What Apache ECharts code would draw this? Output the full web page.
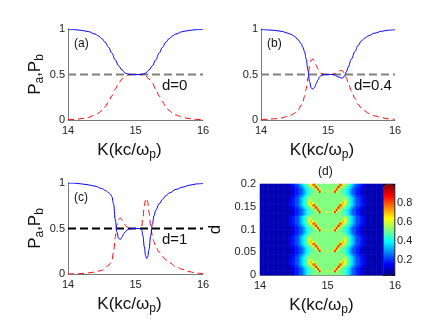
<!DOCTYPE html>
<html>
<head>
<meta charset="utf-8">
<script src="https://cdn.jsdelivr.net/npm/echarts@6.0.0/dist/echarts.min.js"></script>
<style>
  html, body { margin: 0; padding: 0; background: #fff; }
  #chart { width: 436px; height: 327px; }
</style>
</head>
<body>
<div id="chart"></div>
<script>
// panel (a), d = 0
const kA = [14, 14.1, 14.2, 14.3, 14.4, 14.45, 14.5, 14.55, 14.6, 14.65, 14.7, 14.75, 14.8, 14.85, 14.9, 14.95, 15, 15.05, 15.1, 15.15, 15.2, 15.25, 15.3, 15.35, 15.4, 15.45, 15.5, 15.55, 15.6, 15.7, 15.8, 15.9, 16]
const paA = [0.995, 0.993, 0.985, 0.972, 0.945, 0.925, 0.895, 0.855, 0.8, 0.735, 0.66, 0.595, 0.55, 0.515, 0.503, 0.5, 0.5, 0.5, 0.503, 0.515, 0.55, 0.595, 0.66, 0.735, 0.8, 0.855, 0.895, 0.925, 0.945, 0.972, 0.985, 0.993, 0.995]
const pbA = [0.005, 0.007, 0.015, 0.028, 0.055, 0.075, 0.105, 0.145, 0.2, 0.265, 0.34, 0.405, 0.45, 0.485, 0.497, 0.5, 0.5, 0.5, 0.497, 0.485, 0.45, 0.405, 0.34, 0.265, 0.2, 0.145, 0.105, 0.075, 0.055, 0.028, 0.015, 0.007, 0.005]

// panel (b), d = 0.4
const kB = [14, 14.1, 14.2, 14.3, 14.4, 14.45, 14.5, 14.55, 14.6, 14.625, 14.65, 14.675, 14.7, 14.725, 14.75, 14.775, 14.8, 14.825, 14.85, 14.875, 14.9, 14.95, 15, 15.05, 15.1, 15.15, 15.2, 15.225, 15.25, 15.275, 15.3, 15.35, 15.4, 15.45, 15.5, 15.55, 15.6, 15.7, 15.8, 15.9, 16]
const paB = [0.995, 0.99, 0.985, 0.975, 0.955, 0.94, 0.92, 0.885, 0.84, 0.8, 0.75, 0.67, 0.55, 0.42, 0.35, 0.34, 0.36, 0.4, 0.44, 0.475, 0.49, 0.5, 0.5, 0.5, 0.495, 0.475, 0.46, 0.465, 0.49, 0.53, 0.58, 0.67, 0.75, 0.82, 0.87, 0.9, 0.925, 0.955, 0.975, 0.987, 0.993]
const pbB = [0.005, 0.008, 0.013, 0.022, 0.04, 0.055, 0.075, 0.11, 0.16, 0.2, 0.26, 0.34, 0.46, 0.59, 0.66, 0.67, 0.64, 0.6, 0.56, 0.525, 0.51, 0.5, 0.5, 0.5, 0.51, 0.535, 0.545, 0.535, 0.5, 0.46, 0.41, 0.32, 0.24, 0.17, 0.13, 0.1, 0.075, 0.045, 0.025, 0.013, 0.007]

// panel (c), d = 1
const kC = [14, 14.1, 14.2, 14.3, 14.4, 14.5, 14.55, 14.6, 14.625, 14.65, 14.675, 14.7, 14.725, 14.75, 14.775, 14.8, 14.825, 14.85, 14.875, 14.9, 14.95, 15, 15.05, 15.09, 15.11, 15.13, 15.15, 15.165, 15.18, 15.2, 15.225, 15.25, 15.275, 15.3, 15.35, 15.4, 15.45, 15.5, 15.6, 15.7, 15.8, 15.9, 16]
const paC = [1, 0.998, 0.99, 0.98, 0.965, 0.94, 0.92, 0.895, 0.88, 0.85, 0.77, 0.6, 0.46, 0.39, 0.38, 0.405, 0.44, 0.465, 0.485, 0.495, 0.5, 0.5, 0.5, 0.49, 0.42, 0.3, 0.2, 0.17, 0.19, 0.27, 0.42, 0.55, 0.64, 0.7, 0.77, 0.82, 0.86, 0.89, 0.93, 0.955, 0.975, 0.99, 0.995]
const pbC = [0, 0.002, 0.005, 0.012, 0.022, 0.04, 0.065, 0.095, 0.115, 0.15, 0.24, 0.4, 0.54, 0.6, 0.615, 0.595, 0.565, 0.535, 0.515, 0.505, 0.5, 0.5, 0.5, 0.52, 0.62, 0.75, 0.82, 0.83, 0.79, 0.68, 0.53, 0.42, 0.35, 0.3, 0.24, 0.19, 0.155, 0.125, 0.08, 0.05, 0.025, 0.01, 0.003]

// the 0.5 reference line
const halfK = [14, 16]
const halfP = [0.5, 0.5]

// panel (d): 80 K cells (14..16) x 40 d cells (0..0.2)
const kCells = Array.from({ length: 80 }, (_, i) => (14.0125 + 0.025 * i).toFixed(4))
const dCells = Array.from({ length: 40 }, (_, j) => (0.0025 + 0.005 * j).toFixed(4))
// letters a..u = 0.04..1.0 in steps of 0.048, rows listed top (d=0.2) to bottom (d=0)
const heatLevels = 'abcdefghijklmnopqrstu'
const heatRows = [
  'bbbbbbbbbbbbbbbbbccddeefghijklmpqlkkkkkk' + 'kkkkkklqpmlkjihgfeeddccbbbbbbbbbbbbbbbbb',
  'bbbbbbbbbbbbbbbbbbccddeefghijkklorlkkkkk' + 'kkkkklrolkkjihgfeeddccbbbbbbbbbbbbbbbbbb',
  'bbbbbbbbbbbbbbbbbbbccddeefghijjkkmrmkkkk' + 'kkkkmrmkkjjihgfeeddccbbbbbbbbbbbbbbbbbbb',
  'bbbbbbbbbbbbbbbbbbbccddeefghijjjkklrlkkl' + 'lkklrlkkjjjihgfeeddccbbbbbbbbbbbbbbbbbbb',
  'bbbbbbbbbbbbbbbbbbbccddeefghijjkkkkkkkkk' + 'kkkkkkkkkjjihgfeeddccbbbbbbbbbbbbbbbbbbb',
  'bbbbbbbbbbbbbbbbbbccddeefghijkkkkkkkkkkk' + 'kkkkkkkkkkkjihgfeeddccbbbbbbbbbbbbbbbbbb',
  'bbbbbbbbbbbbbbbbbccddeefghijklkkkkkkkkkk' + 'kkkkkkkkkklkjihgfeeddccbbbbbbbbbbbbbbbbb',
  'bbbbbbbbbbbbbbbbbccddeefghijlmlkkkkkkkkk' + 'kkkkkkkkklmljihgfeeddccbbbbbbbbbbbbbbbbb',
  'bbbbbbbbbbbbbbbbbccddeefghijlmomlkkkkkkk' + 'kkkkkkklmomljihgfeeddccbbbbbbbbbbbbbbbbb',
  'bbbbbbbbbbbbbbbbbccddeefghijklmpqlkkkkkk' + 'kkkkkklqpmlkjihgfeeddccbbbbbbbbbbbbbbbbb',
  'bbbbbbbbbbbbbbbbbbccddeefghijkklorlkkkkk' + 'kkkkklrolkkjihgfeeddccbbbbbbbbbbbbbbbbbb',
  'bbbbbbbbbbbbbbbbbbbccddeefghijjkkmrmkkkk' + 'kkkkmrmkkjjihgfeeddccbbbbbbbbbbbbbbbbbbb',
  'bbbbbbbbbbbbbbbbbbbccddeefghijjjkklrlkkl' + 'lkklrlkkjjjihgfeeddccbbbbbbbbbbbbbbbbbbb',
  'bbbbbbbbbbbbbbbbbbbccddeefghijjkkkkkkkkk' + 'kkkkkkkkkjjihgfeeddccbbbbbbbbbbbbbbbbbbb',
  'bbbbbbbbbbbbbbbbbccddeefghijklkkkkkkkkkk' + 'kkkkkkkkkklkjihgfeeddccbbbbbbbbbbbbbbbbb',
  'bbbbbbbbbbbbbbbbbccddeefghijlmlkkkkkkkkk' + 'kkkkkkkkklmljihgfeeddccbbbbbbbbbbbbbbbbb',
  'bbbbbbbbbbbbbbbbbccddeefghijlmomlkkkkkkk' + 'kkkkkkklmomljihgfeeddccbbbbbbbbbbbbbbbbb',
  'bbbbbbbbbbbbbbbbbccddeefghijklmpqlkkkkkk' + 'kkkkkklqpmlkjihgfeeddccbbbbbbbbbbbbbbbbb',
  'bbbbbbbbbbbbbbbbbbccddeefghijkklorlkkkkk' + 'kkkkklrolkkjihgfeeddccbbbbbbbbbbbbbbbbbb',
  'bbbbbbbbbbbbbbbbbbbccddeefghijjkkmrmkkkk' + 'kkkkmrmkkjjihgfeeddccbbbbbbbbbbbbbbbbbbb',
  'bbbbbbbbbbbbbbbbbbbccddeefghijjjkklrlkkl' + 'lkklrlkkjjjihgfeeddccbbbbbbbbbbbbbbbbbbb',
  'bbbbbbbbbbbbbbbbbbbccddeefghijjkkkkkkkkk' + 'kkkkkkkkkjjihgfeeddccbbbbbbbbbbbbbbbbbbb',
  'bbbbbbbbbbbbbbbbbbccddeefghijkkkkkkkkkkk' + 'kkkkkkkkkkkjihgfeeddccbbbbbbbbbbbbbbbbbb',
  'bbbbbbbbbbbbbbbbbccddeefghijklkkkkkkkkkk' + 'kkkkkkkkkklkjihgfeeddccbbbbbbbbbbbbbbbbb',
  'bbbbbbbbbbbbbbbbbccddeefghijlmlkkkkkkkkk' + 'kkkkkkkkklmljihgfeeddccbbbbbbbbbbbbbbbbb',
  'bbbbbbbbbbbbbbbbbccddeefghijlmomlkkkkkkk' + 'kkkkkkklmomljihgfeeddccbbbbbbbbbbbbbbbbb',
  'bbbbbbbbbbbbbbbbbccddeefghijklmpqlkkkkkk' + 'kkkkkklqpmlkjihgfeeddccbbbbbbbbbbbbbbbbb',
  'bbbbbbbbbbbbbbbbbbccddeefghijkklorlkkkkk' + 'kkkkklrolkkjihgfeeddccbbbbbbbbbbbbbbbbbb',
  'bbbbbbbbbbbbbbbbbbbccddeefghijjkkmrmkkkk' + 'kkkkmrmkkjjihgfeeddccbbbbbbbbbbbbbbbbbbb',
  'bbbbbbbbbbbbbbbbbbbccddeefghijjjkklrlkkl' + 'lkklrlkkjjjihgfeeddccbbbbbbbbbbbbbbbbbbb',
  'bbbbbbbbbbbbbbbbbbbccddeefghijjkkkkkkkkk' + 'kkkkkkkkkjjihgfeeddccbbbbbbbbbbbbbbbbbbb',
  'bbbbbbbbbbbbbbbbbbccddeefghijkkkkkkkkkkk' + 'kkkkkkkkkkkjihgfeeddccbbbbbbbbbbbbbbbbbb',
  'bbbbbbbbbbbbbbbbbccddeefghijklkkkkkkkkkk' + 'kkkkkkkkkklkjihgfeeddccbbbbbbbbbbbbbbbbb',
  'bbbbbbbbbbbbbbbbbccddeefghijlmlkkkkkkkkk' + 'kkkkkkkkklmljihgfeeddccbbbbbbbbbbbbbbbbb',
  'bbbbbbbbbbbbbbbbbccddeefghijlmomlkkkkkkk' + 'kkkkkkklmomljihgfeeddccbbbbbbbbbbbbbbbbb',
  'bbbbbbbbbbbbbbbbbccddeefghijklmpqlkkkkkk' + 'kkkkkklqpmlkjihgfeeddccbbbbbbbbbbbbbbbbb',
  'bbbbbbbbbbbbbbbbbbccddeefghijkklorlkkkkk' + 'kkkkklrolkkjihgfeeddccbbbbbbbbbbbbbbbbbb',
  'bbbbbbbbbbbbbbbbbbbccddeefghijjkkmrmkkkk' + 'kkkkmrmkkjjihgfeeddccbbbbbbbbbbbbbbbbbbb',
  'bbbbbbbbbbbbbbbbbbbccddeefghijjjkklrlkkl' + 'lkklrlkkjjjihgfeeddccbbbbbbbbbbbbbbbbbbb',
  'bbbbbbbbbbbbbbbbbbbccddeefghijjkkkkkkkkk' + 'kkkkkkkkkjjihgfeeddccbbbbbbbbbbbbbbbbbbb'
]
const colorbarTicks = [0.2, 0.4, 0.6, 0.8]

const jet = ['#000080', '#0000ff', '#0080ff', '#00ffff', '#80ff80', '#ffff00', '#ff8000', '#ff0000', '#800000']
const font = 'Liberation Sans, Arial, Helvetica, sans-serif'
const axisGray = '#7a7a7a'

const heatData = []
heatRows.forEach((row, r) => {
  const j = heatRows.length - 1 - r
  for (let i = 0; i < row.length; i++) {
    heatData.push([i, j, 0.04 + 0.048 * heatLevels.indexOf(row[i])])
  }
})

const pairs = (xs, ys) => xs.map((x, i) => [x, ys[i]])

const kName = 'K(kc/ω{sub|p})'
const pName = 'P{sub|a},P{sub|b}'
const nameStyle = {
  fontSize: 17, color: '#111', fontFamily: font,
  rich: { sub: { fontSize: 12, fontFamily: font, color: '#111', padding: [9, 0, 0, 0] } }
}
const tickLabel = { color: '#222', fontSize: 11, fontFamily: font }

const kAxis = (g) => ({
  type: 'value', gridIndex: g, min: 14, max: 16, interval: 1,
  axisLine: { onZero: false, lineStyle: { color: axisGray } },
  axisTick: { show: false }, splitLine: { show: false },
  axisLabel: { ...tickLabel, margin: 5 },
  name: kName, nameLocation: 'middle', nameGap: 20,
  nameTextStyle: { ...nameStyle, padding: [0, 12, 0, 0] }
})
const pAxis = (g, named) => ({
  type: 'value', gridIndex: g, min: 0, max: 1, interval: 0.5,
  axisLine: { show: true, lineStyle: { color: axisGray } },
  axisTick: { show: false }, splitLine: { show: false },
  axisLabel: { ...tickLabel, margin: 3 },
  name: named ? pName : '', nameLocation: 'middle', nameGap: 14, nameTextStyle: nameStyle
})

const halfLine = (g, color) => ({
  type: 'line', xAxisIndex: g, yAxisIndex: g, data: pairs(halfK, halfP),
  showSymbol: false, silent: true,
  lineStyle: { color, width: 2, type: [8, 4] }
})
const pbLine = (g, ks, ps) => ({
  type: 'line', xAxisIndex: g, yAxisIndex: g, data: pairs(ks, ps),
  showSymbol: false, smooth: 0.4, smoothMonotone: 'x',
  lineStyle: { color: '#ff0000', width: 1, type: [6, 4] }
})
const paLine = (g, ks, ps) => ({
  type: 'line', xAxisIndex: g, yAxisIndex: g, data: pairs(ks, ps),
  showSymbol: false, smooth: 0.4, smoothMonotone: 'x',
  lineStyle: { color: '#0000ff', width: 1 }
})

const tag = (text, left, top, size) => ({
  type: 'text', left, top, silent: true,
  style: { text, fill: '#111', font: size + 'px ' + font }
})

const chart = echarts.init(document.getElementById('chart'), null, { renderer: 'canvas' })
chart.setOption({
  animation: false,
  backgroundColor: '#fff',
  textStyle: { fontFamily: font },
  grid: [
    { left: 68, top: 29, width: 135, height: 91 },
    { left: 261, top: 29, width: 134, height: 91 },
    { left: 68, top: 183, width: 135, height: 91 },
    { left: 260, top: 184, width: 135, height: 91 }
  ],
  xAxis: [
    kAxis(0), kAxis(1), kAxis(2), kAxis(3),
    { type: 'category', gridIndex: 3, data: kCells, show: false }
  ],
  yAxis: [
    pAxis(0, true), pAxis(1, false), pAxis(2, true),
    {
      type: 'value', gridIndex: 3, min: 0, max: 0.2, interval: 0.05, position: 'left',
      axisLine: { show: false }, axisTick: { show: false }, splitLine: { show: false },
      axisLabel: { ...tickLabel, margin: 4 },
      name: 'd', nameLocation: 'middle', nameGap: 36, nameTextStyle: nameStyle
    },
    { type: 'category', gridIndex: 3, data: dCells, show: false, position: 'left' },
    {
      type: 'value', gridIndex: 3, min: 0.04, max: 1, position: 'right',
      axisLine: { show: false }, axisTick: { show: false }, splitLine: { show: false },
      axisLabel: { ...tickLabel, margin: 2, customValues: colorbarTicks }
    }
  ],
  visualMap: {
    type: 'continuous', seriesIndex: 9, min: 0.04, max: 1, calculable: false,
    orient: 'vertical', left: 383, top: 184, itemWidth: 11, itemHeight: 91,
    padding: 0, borderColor: '#000', borderWidth: 1, hoverLink: false,
    inRange: { color: jet }
  },
  series: [
    halfLine(0, '#808080'), pbLine(0, kA, pbA), paLine(0, kA, paA),
    halfLine(1, '#808080'), pbLine(1, kB, pbB), paLine(1, kB, paB),
    halfLine(2, '#000000'), pbLine(2, kC, pbC), paLine(2, kC, paC),
    {
      type: 'heatmap', xAxisIndex: 4, yAxisIndex: 4, data: heatData,
      silent: true, progressive: 0
    }
  ],
  graphic: [
    tag('(a)', 74, 38, 12), tag('d=0', 162, 78, 15),
    tag('(b)', 267, 38, 12), tag('d=0.4', 354, 78, 15),
    tag('(c)', 74, 192, 12), tag('d=1', 162, 232, 15),
    tag('(d)', 318, 166, 12)
  ]
})
</script>
</body>
</html>
